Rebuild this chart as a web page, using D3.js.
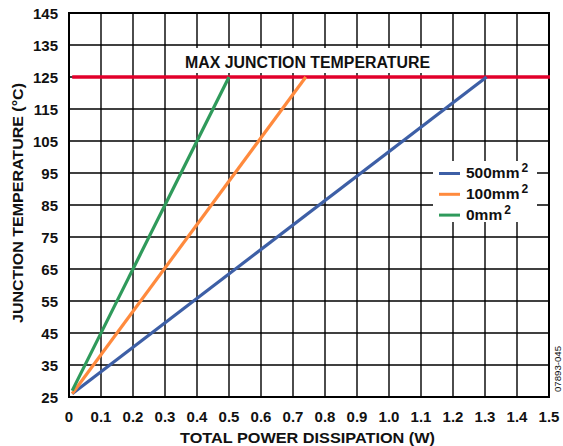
<!DOCTYPE html>
<html>
<head>
<meta charset="utf-8">
<script src="https://cdn.jsdelivr.net/npm/d3@7"></script>
<style>
  body { margin: 0; background: #fff; }
  svg text { font-family: "Liberation Sans", Arial, sans-serif; font-weight: bold; fill: #111; }
</style>
</head>
<body>
<svg id="chart" width="563" height="446"></svg>
<script>
"use strict";

// data
let xTicks = [0, 0.1, 0.2, 0.3, 0.4, 0.5, 0.6, 0.7, 0.8, 0.9, 1.0, 1.1, 1.2, 1.3, 1.4, 1.5];
let yTicks = [25, 35, 45, 55, 65, 75, 85, 95, 105, 115, 125, 135, 145];
let seriesNames = ["500mm", "100mm", "0mm"];
let seriesColors = ["#3d5fa6", "#ff8a3d", "#2f9a5b"];
let series500 = [[0.01, 26], [1.305, 125]];
let series100 = [[0.01, 26], [0.74, 125]];
let series0 = [[0.01, 27], [0.5, 125]];
let maxJunction = 125;

let svg = d3.select("#chart");

let plotLeft = 69, plotRight = 549, plotTop = 13, plotBottom = 397;

let x = d3.scaleLinear().domain([0, 1.5]).range([plotLeft, plotRight]);
let y = d3.scaleLinear().domain([25, 145]).range([plotBottom, plotTop]);

// grid
let grid = svg.append("g");
grid.selectAll(".vg")
	.data(xTicks)
	.enter()
	.append("line")
	.attr("x1", d => x(d)).attr("x2", d => x(d))
	.attr("y1", plotTop).attr("y2", plotBottom)
	.attr("stroke", "#000").attr("stroke-width", 1.4);
grid.selectAll(".hg")
	.data(yTicks)
	.enter()
	.append("line")
	.attr("x1", plotLeft).attr("x2", plotRight)
	.attr("y1", d => y(d)).attr("y2", d => y(d))
	.attr("stroke", "#000").attr("stroke-width", 1.4);

svg.append("rect")
	.attr("x", plotLeft).attr("y", plotTop)
	.attr("width", plotRight - plotLeft).attr("height", plotBottom - plotTop)
	.attr("fill", "none").attr("stroke", "#000").attr("stroke-width", 2);

// white patch behind the max temperature label
svg.append("rect")
	.attr("x", 176).attr("y", 48).attr("width", 262).attr("height", 25)
	.attr("fill", "#fff");

// tick labels
svg.append("g")
	.selectAll("text")
	.data(xTicks)
	.enter()
	.append("text")
	.attr("x", d => x(d))
	.attr("y", 422)
	.attr("text-anchor", "middle")
	.style("font-size", "15px")
	.text(d => d === 0 ? "0" : d3.format(".1f")(d));

svg.append("g")
	.selectAll("text")
	.data(yTicks)
	.enter()
	.append("text")
	.attr("x", 58)
	.attr("y", d => y(d) + 5.5)
	.attr("text-anchor", "end")
	.style("font-size", "15px")
	.text(d => d);

// axis titles
svg.append("text")
	.attr("x", 307.5)
	.attr("y", 443)
	.attr("text-anchor", "middle")
	.attr("textLength", 255)
	.attr("lengthAdjust", "spacingAndGlyphs")
	.style("font-size", "15px")
	.text("TOTAL POWER DISSIPATION (W)");

svg.append("text")
	.attr("transform", "translate(23,203) rotate(-90)")
	.attr("text-anchor", "middle")
	.attr("textLength", 240)
	.attr("lengthAdjust", "spacingAndGlyphs")
	.style("font-size", "14.5px")
	.text("JUNCTION TEMPERATURE (°C)");

svg.append("text")
	.attr("transform", "translate(561,369) rotate(-90)")
	.attr("text-anchor", "middle")
	.attr("textLength", 46)
	.attr("lengthAdjust", "spacingAndGlyphs")
	.style("font-size", "9px")
	.style("font-weight", "normal")
	.text("07893-045");

// max junction line
svg.append("line")
	.attr("x1", x(0.01)).attr("x2", plotRight + 1)
	.attr("y1", y(maxJunction)).attr("y2", y(maxJunction))
	.attr("stroke", "#e2002b").attr("stroke-width", 3.5);

svg.append("text")
	.attr("x", 307.5)
	.attr("y", 68)
	.attr("text-anchor", "middle")
	.attr("textLength", 245)
	.attr("lengthAdjust", "spacingAndGlyphs")
	.style("font-size", "16px")
	.text("MAX JUNCTION TEMPERATURE");

// series lines
let line = d3.line().x(d => x(d[0])).y(d => y(d[1]));
let allSeries = [series500, series100, series0];
svg.append("g")
	.selectAll("path")
	.data(allSeries)
	.enter()
	.append("path")
	.attr("d", line)
	.attr("fill", "none")
	.attr("stroke", (d, i) => seriesColors[i])
	.attr("stroke-width", 3.2);

// legend
svg.append("rect")
	.attr("x", 433).attr("y", 161).attr("width", 104).attr("height", 61)
	.attr("fill", "#fff");

let legend = svg.append("g")
	.selectAll("g")
	.data(seriesNames)
	.enter()
	.append("g")
	.attr("transform", (d, i) => "translate(0," + (173.5 + i * 20.8) + ")");

legend.append("line")
	.attr("x1", 439).attr("x2", 460)
	.attr("y1", 0).attr("y2", 0)
	.attr("stroke", (d, i) => seriesColors[i])
	.attr("stroke-width", 3);

let lt = legend.append("text")
	.attr("x", 466)
	.attr("y", 4.5)
	.style("font-size", "15.5px");
lt.append("tspan").text(d => d);
lt.append("tspan")
	.attr("dx", 2)
	.attr("dy", -6)
	.style("font-size", "12px")
	.text("2");
</script>
</body>
</html>
